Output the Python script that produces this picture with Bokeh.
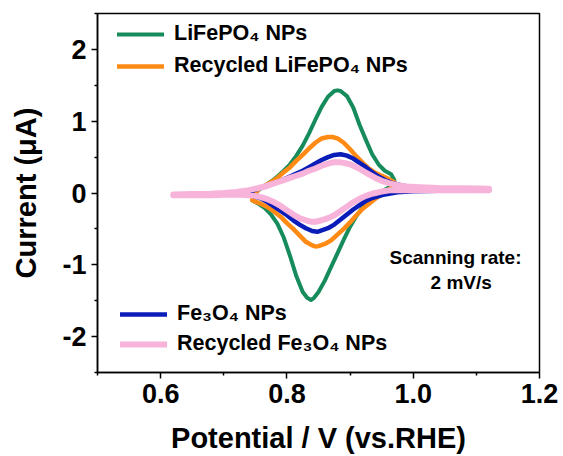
from bokeh.plotting import figure
from bokeh.models import FixedTicker, Legend, LegendItem, Label
from bokeh.embed import file_html
from bokeh.resources import INLINE

# ---------------- data ----------------
x_ticks = [0.6, 0.8, 1.0, 1.2]
x_tick_labels = ["0.6", "0.8", "1.0", "1.2"]
x_minor_ticks = [0.5, 0.7, 0.9, 1.1]
y_ticks = [-2, -1, 0, 1, 2]
y_tick_labels = ["-2", "-1", "0", "1", "2"]
y_minor_ticks = [-2.5, -1.5, -0.5, 0.5, 1.5, 2.5]

series_labels = ["LiFePO\u2084 NPs", "Recycled LiFePO\u2084 NPs",
                 "Fe\u2083O\u2084 NPs", "Recycled Fe\u2083O\u2084 NPs"]
series_colors = ["#168B5B", "#FF8A14", "#0B1DB8", "#F7B3D9"]

# LiFePO4 NPs (forward scan then reverse scan)
lfp_v = [0.745, 0.755, 0.765, 0.775, 0.785, 0.795, 0.805, 0.815, 0.825, 0.835,
         0.845, 0.855, 0.865, 0.875, 0.880, 0.885, 0.895, 0.905, 0.915, 0.925,
         0.935, 0.945, 0.955, 0.965, 0.970,
         0.970, 0.960, 0.950, 0.940, 0.930, 0.920, 0.910, 0.900, 0.890, 0.880,
         0.870, 0.860, 0.850, 0.843, 0.838, 0.832, 0.825, 0.815, 0.805, 0.795,
         0.785, 0.775, 0.765, 0.755, 0.745]
lfp_i = [-0.06, 0.04, 0.10, 0.16, 0.23, 0.31, 0.40, 0.52, 0.66, 0.83,
         1.02, 1.20, 1.34, 1.42, 1.43, 1.42, 1.35, 1.19, 0.95, 0.74,
         0.54, 0.40, 0.31, 0.26, 0.18,
         0.12, 0.07, 0.02, -0.04, -0.11, -0.20, -0.32, -0.47, -0.65, -0.84,
         -1.03, -1.22, -1.38, -1.46, -1.49, -1.46, -1.38, -1.16, -0.88, -0.62,
         -0.43, -0.30, -0.21, -0.15, -0.10]

# Recycled LiFePO4 NPs
rlfp_v = [0.745, 0.755, 0.765, 0.775, 0.785, 0.795, 0.805, 0.815, 0.825, 0.835,
          0.845, 0.855, 0.865, 0.872, 0.880, 0.890, 0.900, 0.910, 0.920, 0.930,
          0.940, 0.950, 0.960, 0.970,
          0.970, 0.960, 0.950, 0.940, 0.930, 0.920, 0.910, 0.900, 0.890, 0.880,
          0.870, 0.860, 0.850, 0.845, 0.840, 0.830, 0.820, 0.810, 0.800, 0.790,
          0.780, 0.770, 0.760, 0.750, 0.745]
rlfp_i = [-0.06, 0.05, 0.10, 0.15, 0.21, 0.29, 0.36, 0.45, 0.53, 0.62,
          0.70, 0.76, 0.78, 0.78, 0.76, 0.70, 0.61, 0.51, 0.42, 0.34,
          0.28, 0.24, 0.20, 0.15,
          0.10, 0.04, -0.02, -0.08, -0.15, -0.22, -0.31, -0.41, -0.50, -0.58,
          -0.66, -0.71, -0.74, -0.745, -0.73, -0.68, -0.59, -0.50, -0.42, -0.33,
          -0.26, -0.20, -0.155, -0.12, -0.10]

# Fe3O4 NPs
fe_v = [0.720, 0.735, 0.745, 0.755, 0.765, 0.775, 0.785, 0.795, 0.805, 0.815,
        0.825, 0.835, 0.845, 0.855, 0.865, 0.875, 0.885, 0.895, 0.905, 0.915,
        0.925, 0.935, 0.945, 0.955, 0.965, 0.975, 0.990, 1.010, 1.040, 1.080,
        1.120,
        1.120, 1.080, 1.040, 1.000, 0.975, 0.955, 0.935, 0.925, 0.915, 0.905,
        0.895, 0.885, 0.875, 0.865, 0.855, 0.848, 0.840, 0.830, 0.820, 0.810,
        0.800, 0.790, 0.780, 0.770, 0.760, 0.750, 0.740, 0.720]
fe_i = [-0.02, 0.00, 0.03, 0.06, 0.09, 0.12, 0.15, 0.19, 0.23, 0.27,
        0.31, 0.36, 0.41, 0.46, 0.50, 0.53, 0.54, 0.52, 0.48, 0.42,
        0.36, 0.29, 0.23, 0.18, 0.145, 0.12, 0.09, 0.07, 0.06, 0.055,
        0.05,
        0.04, 0.035, 0.03, 0.025, 0.01, -0.02, -0.07, -0.11, -0.17, -0.23,
        -0.30, -0.37, -0.44, -0.49, -0.52, -0.54, -0.53, -0.49, -0.44, -0.38,
        -0.31, -0.25, -0.19, -0.13, -0.08, -0.05, -0.03, -0.02]

# Recycled Fe3O4 NPs
rfe_v = [0.620, 0.650, 0.680, 0.700, 0.720, 0.740, 0.755, 0.765, 0.775, 0.785,
         0.795, 0.805, 0.815, 0.825, 0.835, 0.845, 0.855, 0.865, 0.875, 0.883,
         0.890, 0.900, 0.910, 0.920, 0.930, 0.940, 0.950, 0.960, 0.975, 0.990,
         1.010, 1.040, 1.080, 1.120,
         1.120, 1.080, 1.040, 1.010, 0.985, 0.965, 0.950, 0.935, 0.925, 0.915,
         0.905, 0.895, 0.885, 0.875, 0.865, 0.855, 0.845, 0.838, 0.830, 0.820,
         0.810, 0.800, 0.790, 0.780, 0.770, 0.760, 0.750, 0.740, 0.720, 0.700,
         0.680, 0.650, 0.620]
rfe_i = [-0.02, -0.015, -0.01, 0.00, 0.015, 0.04, 0.07, 0.09, 0.12, 0.15,
         0.18, 0.21, 0.24, 0.27, 0.31, 0.34, 0.38, 0.41, 0.43, 0.43,
         0.42, 0.40, 0.36, 0.31, 0.26, 0.21, 0.17, 0.14, 0.11, 0.09,
         0.08, 0.07, 0.065, 0.06,
         0.04, 0.04, 0.04, 0.04, 0.04, 0.04, 0.02, -0.01, -0.04, -0.08,
         -0.13, -0.19, -0.25, -0.31, -0.35, -0.38, -0.40, -0.40, -0.38, -0.35,
         -0.30, -0.24, -0.18, -0.13, -0.09, -0.06, -0.04, -0.03, -0.02, -0.025,
         -0.03, -0.03, -0.03]

series_v = [lfp_v, rlfp_v, fe_v, rfe_v]
series_i = [lfp_i, rlfp_i, fe_i, rfe_i]
series_widths = [4, 4.5, 4.5, 6]

FONT = "Liberation Sans"

p = figure(width=563, height=456, x_range=(0.5, 1.2), y_range=(-2.5, 2.5),
           output_backend="svg", toolbar_location=None,
           min_border_left=97, min_border_right=24,
           min_border_top=13, min_border_bottom=83)

p.xgrid.visible = False
p.ygrid.visible = False
p.outline_line_color = "black"
p.outline_line_width = 1.5
p.outline_line_alpha = 1.0
p.background_fill_color = "white"
p.border_fill_color = "white"

renderers = []
for v, i, c, w in zip(series_v, series_i, series_colors, series_widths):
    r = p.line(v, i, line_color=c, line_width=w, line_join="round", line_cap="round")
    renderers.append(r)

for ax in (p.xaxis[0], p.yaxis[0]):
    ax.axis_line_width = 1.5
    ax.axis_line_color = "black"
    ax.major_tick_line_width = 1.5
    ax.minor_tick_line_width = 1.5
    ax.major_tick_line_color = "black"
    ax.minor_tick_line_color = "black"
    ax.major_tick_out = 6
    ax.major_tick_in = 0
    ax.minor_tick_out = 3
    ax.minor_tick_in = 0
    ax.major_label_text_font = FONT
    ax.major_label_text_font_style = "bold"
    ax.major_label_text_font_size = "27px"
    ax.major_label_text_color = "black"
    ax.axis_label_text_font = FONT
    ax.axis_label_text_font_style = "bold"
    ax.axis_label_text_font_size = "29px"
    ax.axis_label_text_color = "black"

p.xaxis.ticker = FixedTicker(ticks=x_ticks, minor_ticks=x_minor_ticks)
p.xaxis.major_label_overrides = dict(zip(x_ticks, x_tick_labels))
p.yaxis.ticker = FixedTicker(ticks=y_ticks, minor_ticks=y_minor_ticks)
p.yaxis.major_label_overrides = dict(zip(y_ticks, y_tick_labels))
p.xaxis.axis_label = "Potential / V (vs.RHE)"
p.yaxis.axis_label = "Current (\u03bcA)"
p.xaxis.major_label_standoff = 5
p.xaxis.axis_label_standoff = 16
p.yaxis.major_label_standoff = 5
p.yaxis.axis_label_standoff = 17


def make_legend(idx, loc, spacing):
    items = [LegendItem(label=series_labels[k], renderers=[renderers[k]]) for k in idx]
    return Legend(items=items, location=loc, orientation="vertical",
                  padding=0, margin=0, spacing=spacing,
                  glyph_width=47, glyph_height=24, label_height=24,
                  label_standoff=10,
                  label_text_font=FONT, label_text_font_style="bold",
                  label_text_font_size="21.5px", label_text_color="black",
                  border_line_alpha=0, background_fill_alpha=0)


p.add_layout(make_legend([0, 1], (20, 294), 7))
p.add_layout(make_legend([2, 3], (23, 16), 5))

p.add_layout(Label(x=1.067, y=-0.893, text="Scanning rate:", text_align="center",
                   text_baseline="alphabetic", text_font=FONT,
                   text_font_style="bold", text_font_size="19px", text_color="black"))
p.add_layout(Label(x=1.076, y=-1.24, text="2 mV/s", text_align="center",
                   text_baseline="alphabetic", text_font=FONT,
                   text_font_style="bold", text_font_size="19px", text_color="black"))

open("out.html", "w").write(file_html(p, INLINE))
